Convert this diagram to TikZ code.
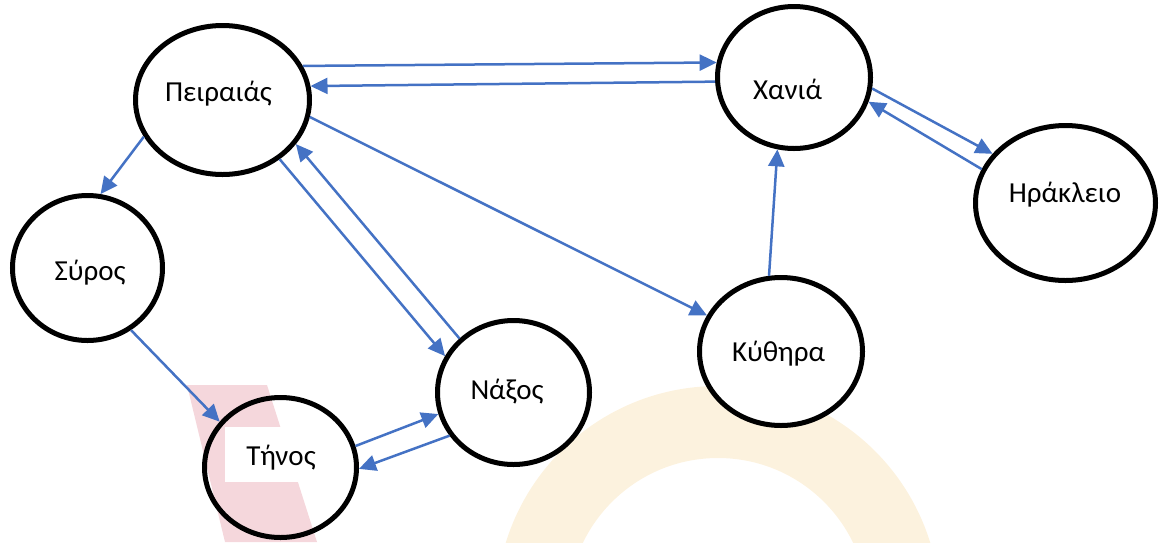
\documentclass[tikz,border=0pt]{standalone}
\usepackage{fontspec}
\setmainfont{Carlito}
\usetikzlibrary{shapes.geometric,arrows.meta}
\definecolor{edgeblue}{RGB}{68,114,196}
\definecolor{wmpink}{RGB}{245,215,220}
\definecolor{wmyellow}{RGB}{252,242,222}
\tikzset{
  city/.style={draw=black, line width=5pt, ellipse, inner sep=0pt},
  lbl/.style={font=\fontsize{29}{32}\selectfont, inner sep=0pt, anchor=center},
  conn/.style={draw=edgeblue, line width=2.5pt, -{Triangle[length=17pt,width=16pt]}}
}
\begin{document}
\begin{tikzpicture}[x=1pt,y=-1pt]
\useasboundingbox (0,0) rectangle (1160,542);
% watermark
\begin{scope}
\clip (0,0) rectangle (1160,542);
\fill[wmpink] (187,385) -- (267,385) -- (317,542) -- (225,542) -- cycle;
\fill[wmyellow, even odd rule] (718,608) circle[radius=222] (718,608) circle[radius=150];
\end{scope}
% white box behind Tinos label
\node[fill=white, minimum width=90pt, minimum height=55pt, inner sep=0pt] (Tbox) at (270,454.5) {};
% cities
\node[city, fill=white, minimum width=174pt, minimum height=149pt] (P) at (222.5,100) {};
\node[city, fill=white, minimum width=153pt, minimum height=142pt] (X) at (794,77.5) {};
\node[city, fill=white, minimum width=180pt, minimum height=155pt] (H) at (1065.5,203) {};
\node[city, fill=white, minimum width=163pt, minimum height=148pt] (K) at (781,351.5) {};
\node[city, fill=white, minimum width=152pt, minimum height=144pt] (N) at (513.5,392.5) {};
\node[city, minimum width=152pt, minimum height=140pt] (T) at (280.5,467.5) {};
\node[city, fill=white, minimum width=150pt, minimum height=145pt] (S) at (87.5,268) {};
% labels
\node[lbl] (Pl) at (218.5,94) {Πειραιάς};
\node[lbl] (Xl) at (787.5,89) {Χανιά};
\node[lbl] (Hl) at (1065,195) {Ηράκλειο};
\node[lbl] (Kl) at (778.5,354) {Κύθηρα};
\node[lbl] (Nl) at (507,392) {Νάξος};
\node[lbl] (Tl) at (281,458) {Τήνος};
\node[lbl] (Sl) at (90,273) {Σύρος};
% connectors
\draw[conn] (P.23.4) -- (X.169.2);
\draw[conn] (X.183.3) -- (P.9.4);
\draw[conn] (P.-11) -- (K.154.6);
\draw[conn] (P.205.2) -- (S.80);
\draw[conn] (S.-55.6) -- (T.143.1);
\draw[conn] (P.-46.3) -- (N.152.2);
\draw[conn] (N.135) -- (P.-31.7);
\draw[conn] (T.16.2) -- (N.196);
\draw[conn] (N.214.8) -- (T.-1.8);
\draw[conn] (K.99) -- (X.-103.3);
\draw[conn] (X.-8.1) -- (H.146);
\draw[conn] (H.158.2) -- (X.-18.6);
\end{tikzpicture}
\end{document}
